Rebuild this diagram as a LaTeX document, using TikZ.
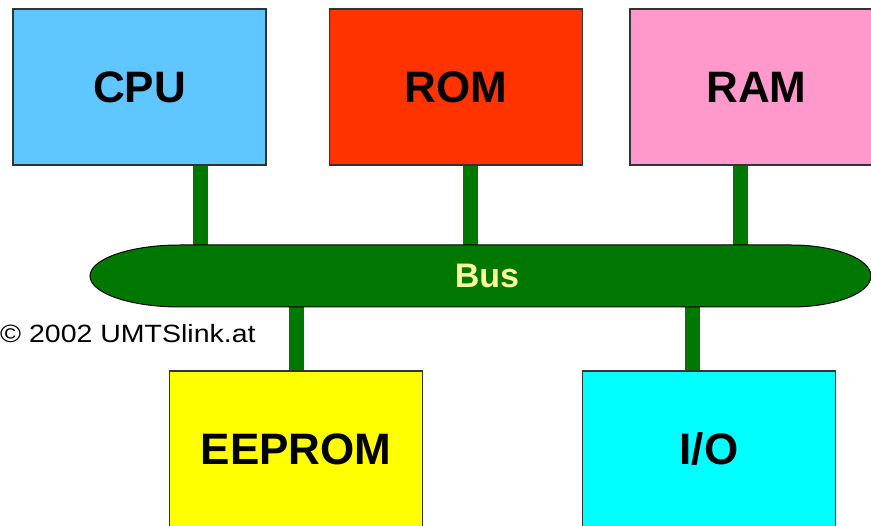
\documentclass[tikz,border=0pt]{standalone}
\usepackage{fontspec}
\setmainfont{Liberation Sans}
\definecolor{cpucol}{HTML}{60C6FF}
\definecolor{romcol}{HTML}{FF3300}
\definecolor{ramcol}{HTML}{FF99CC}
\definecolor{eepcol}{HTML}{FFFF00}
\definecolor{iocol}{HTML}{00FFFF}
\definecolor{busgreen}{HTML}{007800}
\definecolor{buslabel}{HTML}{FFFF99}
\pgfdeclarelayer{bg}
\pgfsetlayers{bg,main}
\begin{document}
\begin{tikzpicture}[x=1pt,y=-1pt,
  unit/.style={draw=black!80,line width=1.2pt,minimum width=253pt,minimum height=156pt,inner sep=0pt,
    font=\fontsize{44}{44}\selectfont\bfseries},
  link/.style={busgreen,line width=15pt},
  busshape/.style={draw=black,line width=1pt,fill=busgreen}]
\useasboundingbox (0,0) rectangle (871,526);
\clip (0,0) rectangle (871,526);
% bus
\draw[busshape] (180,245) -- (791,245)
  arc[start angle=-90,end angle=90,x radius=80,y radius=31]
  -- (180,307)
  arc[start angle=90,end angle=270,x radius=90,y radius=31] -- cycle;
\node[font=\fontsize{34}{34}\selectfont\bfseries,text=buslabel] (bus) at (487,276) {Bus};
% units
\node[unit,fill=cpucol] (cpu) at (139.5,87) {CPU};
\node[unit,fill=romcol] (rom) at (456,87) {ROM};
\node[unit,fill=ramcol] (ram) at (756.5,87) {RAM};
\node[unit,fill=eepcol] (eep) at (296,449) {EEPROM};
\node[unit,fill=iocol] (io) at (709,449) {I/O};
% connection points on the bus
\coordinate (bcpu) at (200,276);
\coordinate (brom) at (470,276);
\coordinate (bram) at (740,276);
\coordinate (beep) at (296,276);
\coordinate (bio) at (692,276);
% connectors (behind)
\begin{pgfonlayer}{bg}
\draw[link] (cpu.south -| bcpu) -- (bcpu);
\draw[link] (rom.south -| brom) -- (brom);
\draw[link] (ram.south -| bram) -- (bram);
\draw[link] (eep.north -| beep) -- (beep);
\draw[link] (io.north -| bio) -- (bio);
\end{pgfonlayer}
\node[anchor=west,inner sep=0pt,font=\fontsize{25}{25}\selectfont] (copy) at (0,334) {\scalebox{1.14}[1]{© 2002 UMTSlink.at}};
\end{tikzpicture}
\end{document}
